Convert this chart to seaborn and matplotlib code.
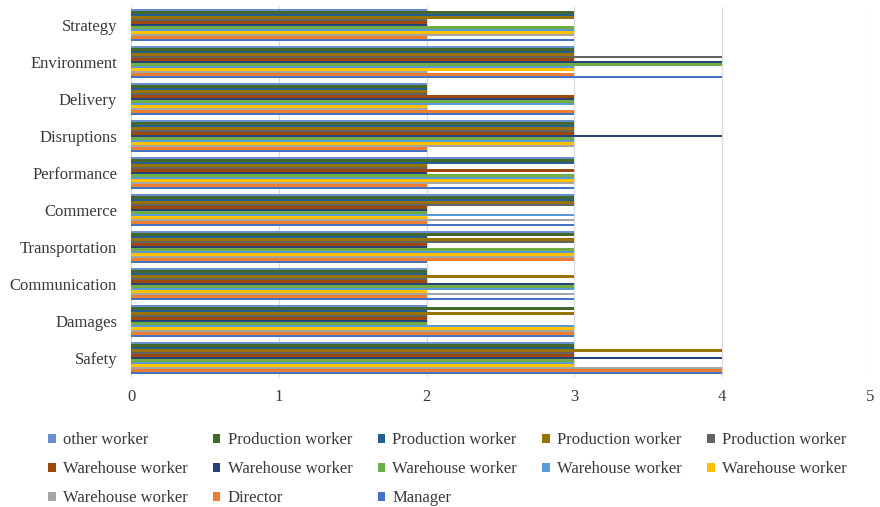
import matplotlib
matplotlib.use("Agg")
import matplotlib.pyplot as plt
from matplotlib.patches import Patch
import pandas as pd
import seaborn as sns

# Categories, listed top to bottom
categories = ["Strategy", "Environment", "Delivery", "Disruptions", "Performance",
              "Commerce", "Transportation", "Communication", "Damages", "Safety"]

# Scores per respondent (same category order as above)
other_worker    = [2, 3, 2, 3, 3, 3, 3, 2, 2, 3]
production_1    = [3, 3, 2, 3, 3, 3, 3, 2, 3, 3]
production_2    = [3, 3, 2, 3, 3, 3, 2, 2, 2, 3]
production_3    = [3, 3, 2, 3, 2, 3, 3, 3, 3, 4]
production_4    = [2, 4, 2, 3, 2, 3, 3, 2, 2, 3]
warehouse_1     = [2, 3, 3, 3, 3, 2, 2, 2, 2, 3]
warehouse_2     = [2, 4, 3, 4, 2, 2, 2, 3, 2, 4]
warehouse_3     = [3, 4, 3, 3, 3, 2, 3, 3, 2, 3]
warehouse_4     = [3, 3, 3, 3, 3, 3, 3, 3, 3, 3]
warehouse_5     = [3, 3, 2, 3, 3, 2, 3, 2, 3, 3]
warehouse_6     = [3, 2, 2, 3, 3, 3, 3, 3, 3, 4]
director        = [2, 3, 3, 2, 2, 2, 3, 2, 3, 4]
manager         = [3, 4, 3, 2, 3, 3, 2, 3, 3, 4]

series_keys = ["other", "p1", "p2", "p3", "p4", "w1", "w2", "w3", "w4", "w5", "w6",
               "director", "manager"]
series_labels = ["other worker", "Production worker", "Production worker",
                 "Production worker", "Production worker", "Warehouse worker",
                 "Warehouse worker", "Warehouse worker", "Warehouse worker",
                 "Warehouse worker", "Warehouse worker", "Director", "Manager"]
series_values = [other_worker, production_1, production_2, production_3, production_4,
                 warehouse_1, warehouse_2, warehouse_3, warehouse_4, warehouse_5,
                 warehouse_6, director, manager]
series_colors = ["#698ED0", "#43682B", "#255E91", "#997300", "#636363", "#9E480E",
                 "#264478", "#70AD47", "#5B9BD5", "#FFC000", "#A5A5A5", "#ED7D31",
                 "#4472C4"]

rows = []
for key, vals in zip(series_keys, series_values):
    for cat, v in zip(categories, vals):
        rows.append({"category": cat, "series": key, "score": v})
df = pd.DataFrame(rows)

sns.set_style("white")
serif = "Liberation Serif"
plt.rcParams["font.family"] = [serif, "DejaVu Serif"]

fig = plt.figure(figsize=(8.8, 5.07), dpi=100)
ax = fig.add_axes([131 / 880, 1 - 376.5 / 507, (870 - 131) / 880, 370 / 507])

sns.barplot(data=df, y="category", x="score", hue="series",
            order=categories, hue_order=series_keys,
            palette=dict(zip(series_keys, series_colors)),
            orient="h", width=0.87, gap=0, linewidth=0, saturation=1,
            legend=False, ax=ax, zorder=3)

ax.set_xlim(0, 5)
ax.set_ylim(len(categories) - 0.5, -0.5)
ax.set_xticks(range(6))
ax.set_xlabel("")
ax.set_ylabel("")
ax.grid(axis="x", color="#D9D9D9", linewidth=0.9, zorder=0)
ax.grid(axis="y", visible=False)
for s in ax.spines.values():
    s.set_visible(False)
ax.axvline(0, color="#D9D9D9", linewidth=0.9, zorder=0)
ax.tick_params(axis="x", length=0, pad=9, labelsize=12, labelcolor="#3A3A3A")
ax.tick_params(axis="y", length=0, pad=10, labelsize=12, labelcolor="#3A3A3A")

handles = [Patch(facecolor=c, edgecolor="none") for c in series_colors]
# fill row by row across five columns
col_order = [0, 5, 10, 1, 6, 11, 2, 7, 12, 3, 8, 4, 9]
leg = fig.legend([handles[i] for i in col_order], [series_labels[i] for i in col_order],
                 loc="upper left", bbox_to_anchor=(48 / 880, 1 - 432 / 507),
                 ncol=5, frameon=False, fontsize=12, handlelength=0.45,
                 handleheight=0.45, handletextpad=0.45, columnspacing=1.5,
                 labelspacing=0.78, borderpad=0, borderaxespad=0)
for t in leg.get_texts():
    t.set_color("#3A3A3A")

fig.savefig("out.png", dpi=100)
